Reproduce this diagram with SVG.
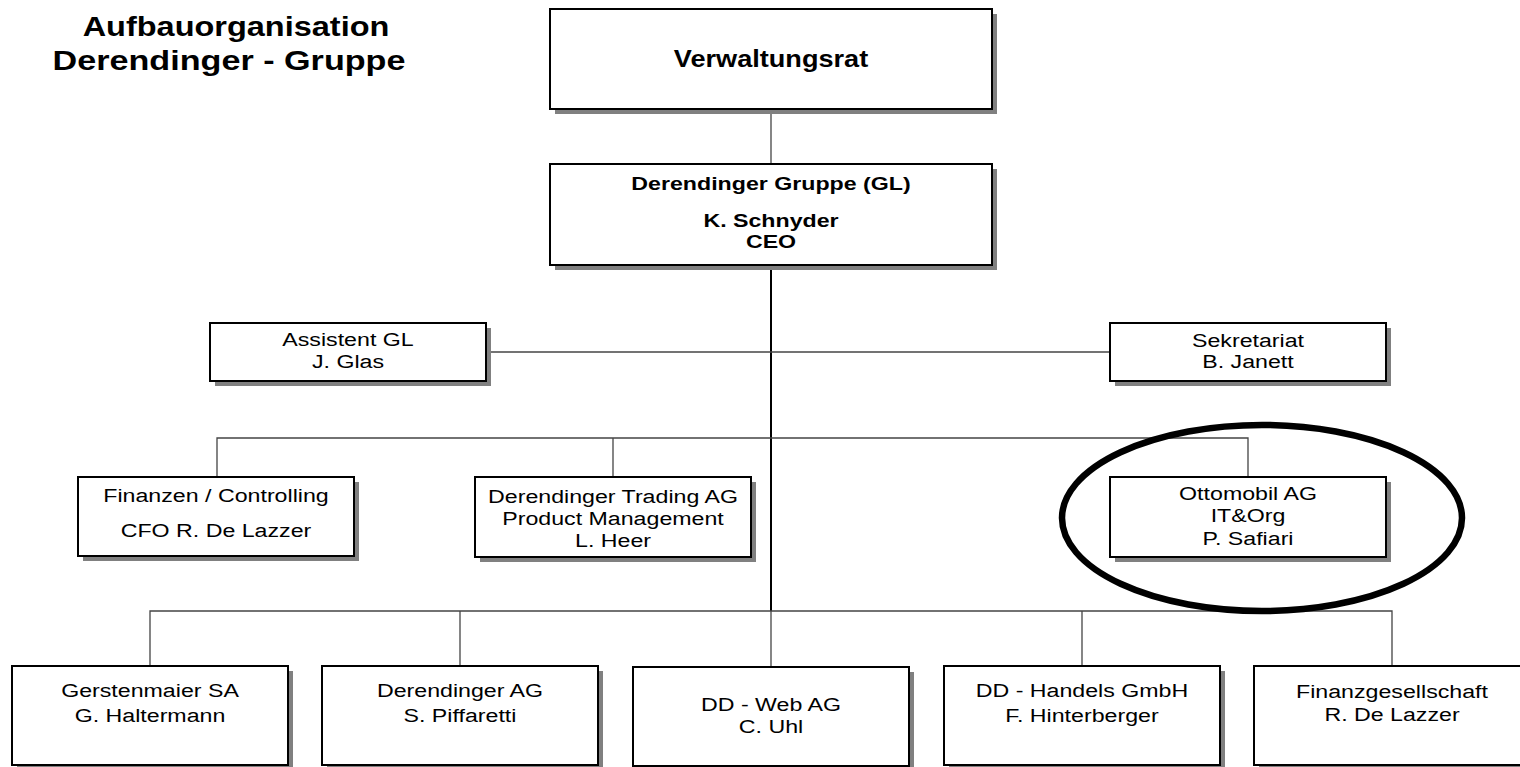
<svg xmlns="http://www.w3.org/2000/svg" width="1520" height="767" viewBox="0 0 1520 767">
<style>
.box{fill:#fff;stroke:#000;stroke-width:2}
.sh{fill:#808080}
.t{font-family:"Liberation Sans",Arial,sans-serif;font-size:19px;text-anchor:middle;fill:#000}
.b{font-weight:bold}
.c{stroke:#444;stroke-width:1.3;fill:none}
.trunk{stroke:#000;stroke-width:2;fill:none}
</style>
<rect width="1520" height="767" fill="#fff"/>
<g id="title">
<text class="t b" style="font-size:28px" transform="translate(236 36) scale(1.16 1)">Aufbauorganisation</text>
<text class="t b" style="font-size:28px" transform="translate(229 70) scale(1.22 1)">Derendinger - Gruppe</text>
</g>
<g id="connectors">
<line class="c" x1="771" y1="109" x2="771" y2="164"/>
<line class="trunk" x1="771" y1="265" x2="771" y2="611"/>
<line class="c" x1="486" y1="352" x2="1110" y2="352"/>
<polyline class="c" points="217,477 217,438 1248,438 1248,477"/>
<line class="c" x1="613" y1="438" x2="613" y2="477"/>
<polyline class="c" points="150,666 150,611 1392,611 1392,666"/>
<line class="c" x1="460" y1="611" x2="460" y2="666"/>
<line class="c" x1="771" y1="611" x2="771" y2="666"/>
<line class="c" x1="1082" y1="611" x2="1082" y2="666"/>
</g>
<g id="verwaltungsrat">
<rect class="sh" x="555" y="14" width="442" height="100"/>
<rect class="box" x="550" y="9" width="442" height="100"/>
<text class="t b" style="font-size:24px" transform="translate(771 67) scale(1.13 1)">Verwaltungsrat</text>
</g>
<g id="gl">
<rect class="sh" x="555" y="169" width="442" height="101"/>
<rect class="box" x="550" y="164" width="442" height="101"/>
<text class="t b" transform="translate(771 190) scale(1.22 1)">Derendinger Gruppe (GL)</text>
<text class="t b" transform="translate(771 227) scale(1.22 1)">K. Schnyder</text>
<text class="t b" transform="translate(771 248) scale(1.22 1)">CEO</text>
</g>
<g id="assistent">
<rect class="sh" x="215" y="328" width="276" height="58"/>
<rect class="box" x="210" y="323" width="276" height="58"/>
<text class="t" transform="translate(348 346) scale(1.22 1)">Assistent GL</text>
<text class="t" transform="translate(348 368) scale(1.22 1)">J. Glas</text>
</g>
<g id="sekretariat">
<rect class="sh" x="1115" y="328" width="276" height="58"/>
<rect class="box" x="1110" y="323" width="276" height="58"/>
<text class="t" transform="translate(1248 347) scale(1.22 1)">Sekretariat</text>
<text class="t" transform="translate(1248 368) scale(1.22 1)">B. Janett</text>
</g>
<g id="finanzen">
<rect class="sh" x="83" y="482" width="276" height="79"/>
<rect class="box" x="78" y="477" width="276" height="79"/>
<text class="t" transform="translate(216 502) scale(1.22 1)">Finanzen / Controlling</text>
<text class="t" transform="translate(216 537) scale(1.22 1)">CFO R. De Lazzer</text>
</g>
<g id="trading">
<rect class="sh" x="480" y="482" width="276" height="80"/>
<rect class="box" x="475" y="477" width="276" height="80"/>
<text class="t" transform="translate(613 503) scale(1.22 1)">Derendinger Trading AG</text>
<text class="t" transform="translate(613 525) scale(1.22 1)">Product Management</text>
<text class="t" transform="translate(613 547) scale(1.22 1)">L. Heer</text>
</g>
<g id="ottomobil">
<rect class="sh" x="1115" y="482" width="276" height="80"/>
<rect class="box" x="1110" y="477" width="276" height="80"/>
<text class="t" transform="translate(1248 500) scale(1.22 1)">Ottomobil AG</text>
<text class="t" transform="translate(1248 522) scale(1.22 1)">IT&amp;Org</text>
<text class="t" transform="translate(1248 545) scale(1.22 1)">P. Safiari</text>
<ellipse cx="1262" cy="518" rx="200" ry="93" fill="none" stroke="#000" stroke-width="6.5"/>
</g>
<g id="gerstenmaier">
<rect class="sh" x="17" y="671" width="276" height="99"/>
<rect class="box" x="12" y="666" width="276" height="99"/>
<text class="t" transform="translate(150 697) scale(1.22 1)">Gerstenmaier SA</text>
<text class="t" transform="translate(150 722) scale(1.22 1)">G. Haltermann</text>
</g>
<g id="derendinger-ag">
<rect class="sh" x="327" y="671" width="276" height="99"/>
<rect class="box" x="322" y="666" width="276" height="99"/>
<text class="t" transform="translate(460 697) scale(1.22 1)">Derendinger AG</text>
<text class="t" transform="translate(460 722) scale(1.22 1)">S. Piffaretti</text>
</g>
<g id="dd-web">
<rect class="sh" x="638" y="672" width="276" height="99"/>
<rect class="box" x="633" y="667" width="276" height="99"/>
<text class="t" transform="translate(771 711) scale(1.22 1)">DD - Web AG</text>
<text class="t" transform="translate(771 733) scale(1.22 1)">C. Uhl</text>
</g>
<g id="dd-handels">
<rect class="sh" x="949" y="671" width="276" height="99"/>
<rect class="box" x="944" y="666" width="276" height="99"/>
<text class="t" transform="translate(1082 697) scale(1.22 1)">DD - Handels GmbH</text>
<text class="t" transform="translate(1082 722) scale(1.22 1)">F. Hinterberger</text>
</g>
<g id="finanzgesellschaft">
<rect class="sh" x="1259" y="671" width="276" height="99"/>
<rect class="box" x="1254" y="666" width="276" height="99"/>
<text class="t" transform="translate(1392 698) scale(1.22 1)">Finanzgesellschaft</text>
<text class="t" transform="translate(1392 721) scale(1.22 1)">R. De Lazzer</text>
</g>
</svg>
